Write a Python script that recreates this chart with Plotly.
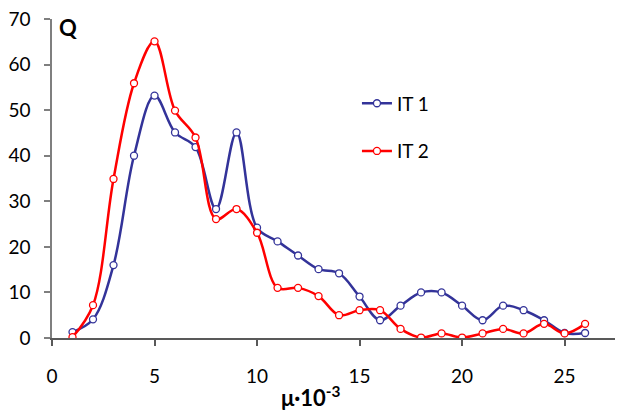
import plotly.graph_objects as go

x_vals = list(range(1, 27))
it1 = [1.3, 4.1, 16.0, 40.0, 53.2, 45.1, 41.9, 28.3, 45.1, 24.2, 21.2, 18.1, 15.1, 14.2, 9.1,
       3.9, 7.1, 10.0, 10.0, 7.1, 3.9, 7.1, 6.1, 3.9, 1.1, 1.1]
it2 = [0.2, 7.2, 34.9, 55.9, 65.1, 49.9, 44.0, 26.1, 28.3, 23.1, 11.0, 11.0, 9.2, 5.0, 6.1,
       6.1, 2.0, 0.1, 1.0, 0.1, 1.0, 2.0, 1.0, 3.1, 1.0, 3.1]
names = ["IT 1", "IT 2"]
colors = ["#333399", "#ff0000"]
x_ticks = [0, 5, 10, 15, 20, 25]
y_ticks = [0, 10, 20, 30, 40, 50, 60, 70]

FONT = "Lato, 'Open Sans', sans-serif"

fig = go.Figure()
for i, (name, ys, col) in enumerate(zip(names, [it1, it2], colors)):
    fig.add_trace(go.Scatter(
        x=x_vals, y=ys, name=name, mode="lines+markers",
        legendgroup=name,
        line=dict(color=col, width=2.5, shape="spline", smoothing=1.0),
        marker=dict(symbol="circle", size=7, color="white",
                    line=dict(color=col, width=1.3)),
    ))

# the page places the figure 8px from the top-left corner (body margin)
fig.update_layout(
    width=615, height=403,
    margin=dict(l=44, r=1, t=11, b=73),
    paper_bgcolor="white", plot_bgcolor="white",
    font=dict(family=FONT, size=19, color="#000000"),
    showlegend=True,
    legend=dict(x=0.535, y=0.795, xanchor="left", yanchor="top",
                traceorder="grouped", tracegroupgap=20,
                font=dict(family=FONT, size=19, color="#000000"),
                bgcolor="rgba(0,0,0,0)", itemwidth=30),
    xaxis=dict(range=[0, 27.8], tickvals=x_ticks, showgrid=False, zeroline=False,
               automargin=False, ticklabeloverflow="allow",
               showline=True, linecolor="#595959", linewidth=1.5,
               ticks="outside", ticklen=6, tickcolor="#595959", tickwidth=1.5,
               ticklabelstandoff=14,
               tickfont=dict(family=FONT, size=19, color="#000000")),
    yaxis=dict(range=[0, 70], tickvals=y_ticks, showgrid=False, zeroline=False,
               automargin=False, ticklabeloverflow="allow",
               showline=True, linecolor="#7f7f7f", linewidth=1.5,
               ticks="outside", ticklen=6, tickcolor="#7f7f7f", tickwidth=1.5,
               ticklabelstandoff=10,
               tickfont=dict(family=FONT, size=19, color="#000000")),
)

fig.add_annotation(text="<b>μ·10<sup>-3</sup></b>", xref="paper", yref="paper",
                   x=(311 - 52) / 570, y=-(396 - 338) / 319, xanchor="center", yanchor="middle",
                   showarrow=False, font=dict(family=FONT, size=22, color="#000000"))
fig.add_annotation(text="<b>Q</b>", xref="paper", yref="paper",
                   x=(57 - 52) / 570, y=(338 - 27) / 319, xanchor="left", yanchor="middle",
                   showarrow=False, font=dict(family=FONT, size=22, color="#000000"))

fig.write_html("out.html")
